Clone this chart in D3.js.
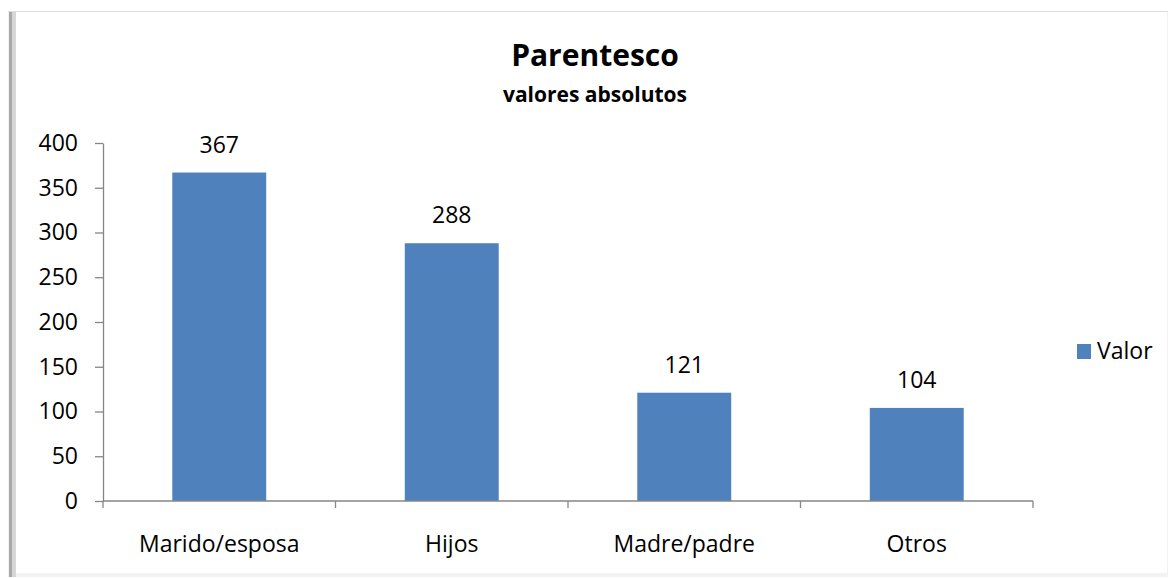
<!DOCTYPE html>
<html>
<head>
<meta charset="utf-8">
<script src="https://cdn.jsdelivr.net/npm/d3@7"></script>
<style>
  body { margin: 0; background: #fff; }
  svg text { font-family: "Open Sans", Lato, sans-serif; fill: #000; }
</style>
</head>
<body>
<svg id="chart" width="1168" height="578"></svg>
<script>
var categories = ["Marido/esposa", "Hijos", "Madre/padre", "Otros"];
var values = [367, 288, 121, 104];
var yTicks = [0, 50, 100, 150, 200, 250, 300, 350, 400];
var seriesName = "Valor";

var svg = d3.select("#chart");
var width = 1168, height = 578;

// chart frame with the soft shadow on the left and bottom
svg.append("rect").attr("x", 8).attr("y", 11).attr("width", 1160).attr("height", 566)
    .attr("fill", "#f3f3f3");
svg.append("rect").attr("x", 9).attr("y", 11).attr("width", 3).attr("height", 566)
    .attr("fill", "#a8a8a8");
svg.append("rect").attr("x", 12).attr("y", 11).attr("width", 4).attr("height", 566)
    .attr("fill", "#d6d6d6");
svg.append("rect").attr("x", 16).attr("y", 12).attr("width", 1151).attr("height", 561)
    .attr("fill", "#fff");
svg.append("line").attr("x1", 8).attr("x2", 1168).attr("y1", 11.5).attr("y2", 11.5)
    .attr("stroke", "#dedede");

var margin = {left: 103, right: 135, top: 143, bottom: 77};

var x = d3.scaleBand()
    .domain(categories)
    .range([margin.left, width - margin.right])
    .paddingInner(0.596).paddingOuter(0.298);

var xTicks = d3.scaleBand().domain(categories).range([margin.left, width - margin.right]);

var y = d3.scaleLinear()
    .domain([0, 400])
    .range([height - margin.bottom, margin.top]);

// y axis
var yAxis = svg.append("g")
    .attr("transform", "translate(" + margin.left + ",0)")
    .call(d3.axisLeft(y).tickValues(yTicks).tickSize(8).tickSizeOuter(0).tickPadding(17));
yAxis.select(".domain").attr("stroke", "#868686").attr("stroke-width", 1.3);
yAxis.selectAll(".tick line").attr("stroke", "#868686").attr("stroke-width", 1.3);
yAxis.selectAll("text").style("font-size", "23px").attr("fill", "#000")
    .style("font-family", "'Open Sans', Lato, sans-serif");

// bars
svg.append("g").selectAll("rect")
    .data(values)
    .enter().append("rect")
      .attr("x", function(d, i) { return x(categories[i]); })
      .attr("y", function(d) { return y(d); })
      .attr("width", x.bandwidth())
      .attr("height", function(d) { return y(0) - y(d); })
      .attr("fill", "#4f81bd");

// x axis with ticks between categories
var base = y(0);
svg.append("line")
    .attr("x1", margin.left).attr("x2", width - margin.right)
    .attr("y1", base).attr("y2", base)
    .attr("stroke", "#868686").attr("stroke-width", 1.3);
var bounds = categories.map(function(c) { return xTicks(c); });
bounds.push(width - margin.right);
svg.append("g").selectAll("line")
    .data(bounds)
    .enter().append("line")
      .attr("x1", function(d) { return d; }).attr("x2", function(d) { return d; })
      .attr("y1", base).attr("y2", base + 7)
      .attr("stroke", "#868686").attr("stroke-width", 1.3);

svg.append("g").selectAll("text")
    .data(categories)
    .enter().append("text")
      .attr("x", function(d) { return x(d) + x.bandwidth() / 2; })
      .attr("y", 552)
      .attr("text-anchor", "middle")
      .style("font-size", "23px")
      .text(function(d) { return d; });

// value labels
svg.append("g").selectAll("text")
    .data(values)
    .enter().append("text")
      .attr("x", function(d, i) { return x(categories[i]) + x.bandwidth() / 2; })
      .attr("y", function(d) { return y(d) - 20; })
      .attr("text-anchor", "middle")
      .style("font-size", "23px")
      .text(function(d) { return d; });

// titles
svg.append("text")
    .attr("x", 595).attr("y", 66)
    .attr("text-anchor", "middle")
    .style("font-size", "30px").style("font-weight", "bold")
    .text("Parentesco");
svg.append("text")
    .attr("x", 595).attr("y", 102)
    .attr("text-anchor", "middle")
    .style("font-size", "21px").style("font-weight", "bold")
    .text("valores absolutos");

// legend
svg.append("rect").attr("x", 1077).attr("y", 344).attr("width", 14).attr("height", 15)
    .attr("fill", "#4f81bd");
svg.append("text").attr("x", 1097).attr("y", 359)
    .style("font-size", "23px")
    .text(seriesName);
</script>
</body>
</html>
